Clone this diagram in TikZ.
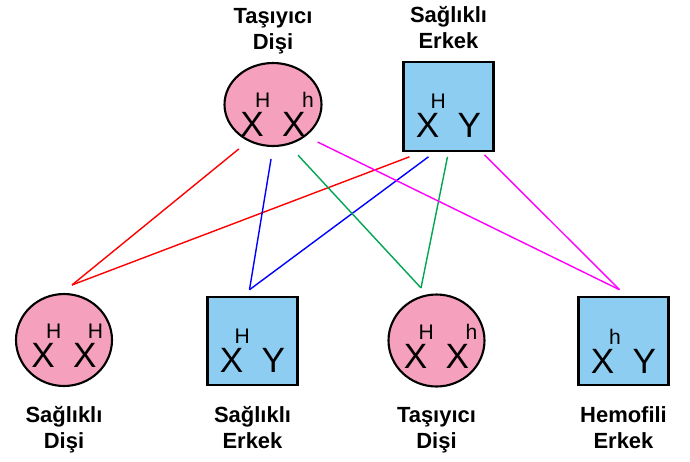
\documentclass[tikz,border=0pt]{standalone}
\usepackage{fontspec}
\setmainfont{Liberation Sans}
\usetikzlibrary{shapes.geometric,positioning,calc}
\definecolor{disiPink}{HTML}{F5A1BE}
\definecolor{erkekBlue}{HTML}{8DCDF2}
\definecolor{hatGreen}{HTML}{00A651}
\definecolor{hatMagenta}{HTML}{FF00FF}
\newcommand{\xal}[2][-0.25em]{X\rlap{\hspace{#1}\raisebox{0.82em}{\fontsize{12}{12}\selectfont #2}}}

\begin{document}
\begin{tikzpicture}[x=0.02cm, y=-0.02cm,
    disi/.style={ellipse, draw=black, line width=1.2pt, fill=disiPink,
                 minimum width=1.92cm, minimum height=1.84cm, inner sep=0pt},
    erkek/.style={rectangle, draw=black, line width=1.2pt, fill=erkekBlue,
                  minimum width=1.8cm, minimum height=1.77cm, inner sep=0pt},
    gen/.style={font=\fontsize{20}{24}\selectfont, inner sep=0pt, anchor=base},
    lbl/.style={font=\fontsize{12.5}{14.7}\selectfont\bfseries, align=center, inner sep=0pt},
    hat/.style={line width=0.8pt},
  ]
  \useasboundingbox (0,0) rectangle (690,461);
  \node[disi, minimum width=1.94cm, minimum height=1.66cm] (anne) at (273,104.5) {};
  \node[erkek] (baba) at (448.5,106.5) {};
  \node[disi] (c1) at (64,340) {};
  \node[erkek] (c2) at (252.5,341) {};
  \node[disi] (c3) at (436.5,340.5) {};
  \node[erkek] (c4) at (623.5,341) {};

  \node[gen] (anneG) at ($(anne)+(0,32)$) {\xal{H}\hspace{0.52em}\xal[-0.1em]{h}};
  \node[gen] (babaG) at ($(baba)+(0,31)$) {\xal{H}\hspace{0.52em}Y};
  \node[gen] (c1G) at ($(c1)+(0,27)$) {\xal{H}\hspace{0.52em}\xal{H}};
  \node[gen] (c2G) at ($(c2)+(0,31)$) {\xal{H}\hspace{0.52em}Y};
  \node[gen] (c3G) at ($(c3)+(0,28)$) {\xal{H}\hspace{0.52em}\xal[-0.1em]{h}};
  \node[gen] (c4G) at ($(c4)+(0,32)$) {\xal[-0.15em]{h}\hspace{0.52em}Y};

  \node[lbl, above=2.5pt of anne] (anneL) {\strut Taşıyıcı\\\strut Dişi};
  \node[lbl, above=2.5pt of baba] (babaL) {\strut Sağlıklı\\\strut Erkek};
  \node[lbl, below=9.5pt of c1] (c1L) {\strut Sağlıklı\\\strut Dişi};
  \node[lbl, below=10pt of c2] (c2L) {\strut Sağlıklı\\\strut Erkek};
  \node[lbl, below=9.5pt of c3] (c3L) {\strut Taşıyıcı\\\strut Dişi};
  \node[lbl, below=10pt of c4] (c4L) {\strut Hemofili\\\strut Erkek};

  \coordinate (j1) at ($(c1.north)+(8,-8)$);
  \coordinate (j2) at ($(c2.north)+(-3,-6)$);
  \coordinate (j3) at ($(c3.north)+(-15.5,-5.5)$);
  \coordinate (j4) at ($(c4.north)+(-4,-6)$);

  \draw[hat, red, shorten <=0.24cm] (anne.-124) -- (j1);
  \draw[hat, red] ([shift={(-39,5)}]baba.south) -- (j1);
  \draw[hat, blue, shorten <=0.24cm] (anne.-90) -- (j2);
  \draw[hat, blue] ([shift={(-20,5)}]baba.south) -- (j2);
  \draw[hat, hatGreen, shorten <=0.28cm] (anne.-69) -- (j3);
  \draw[hat, hatGreen] ([shift={(-1,5)}]baba.south) -- (j3);
  \draw[hat, hatMagenta, shorten <=0.26cm] (anne.-44) -- (j4);
  \draw[hat, hatMagenta] ([shift={(36,3)}]baba.south) -- (j4);
\end{tikzpicture}
\end{document}
